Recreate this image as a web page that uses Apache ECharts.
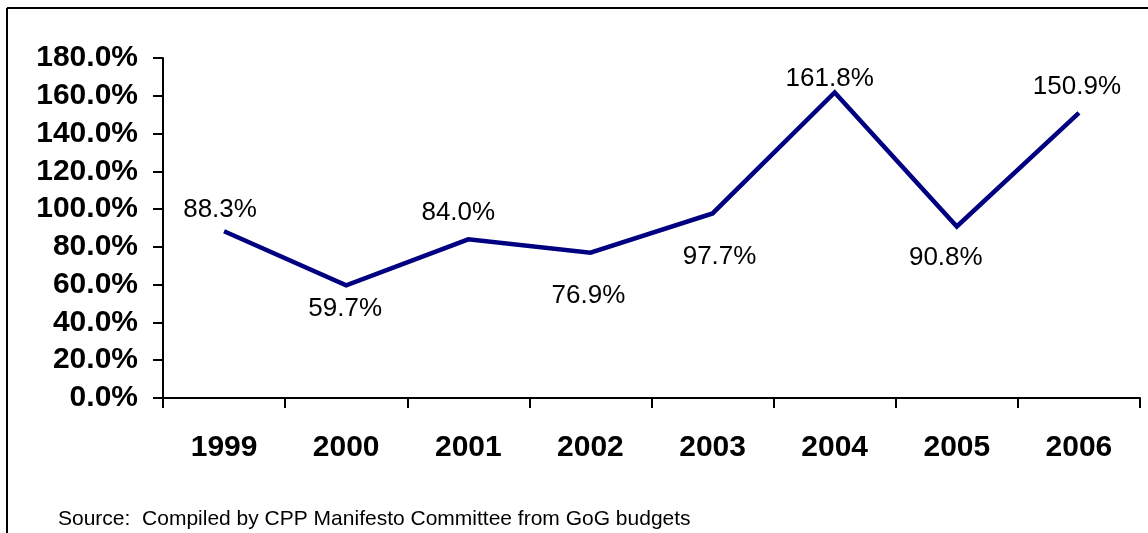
<!DOCTYPE html>
<html>
<head>
<meta charset="utf-8">
<title>Growth rate 1999-2006</title>
<script src="https://cdn.jsdelivr.net/npm/echarts@6/dist/echarts.min.js"></script>
<style>
  html, body { margin: 0; padding: 0; background: #fff; }
  #chart { width: 1148px; height: 533px; }
</style>
</head>
<body>
<div id="chart"></div>
<script>
// Years on the horizontal axis
const years = ['1999', '2000', '2001', '2002', '2003', '2004', '2005', '2006'];
// Yearly rate, in percent
const rates = [88.3, 59.7, 84.0, 76.9, 97.7, 161.8, 90.8, 150.9];
// Value-axis tick values, in percent
const yTicks = [0, 20, 40, 60, 80, 100, 120, 140, 160, 180];
// Where each value label sits relative to its point [dx, dy]
const labelShift = [[-4, -21], [-1, 24], [-10, -27], [-2, 43], [7, 43], [-5, -14], [-11, 31], [-2, -26]];

const sourceNote = 'Source:  Compiled by CPP Manifesto Committee from GoG budgets';

const chart = echarts.init(document.getElementById('chart'), null, { renderer: 'canvas' });

const font = 'Liberation Sans, Arial, Helvetica, sans-serif';

chart.setOption({
  backgroundColor: '#ffffff',
  animation: false,
  grid: { left: 163, right: 8, top: 58, bottom: 135, containLabel: false },
  graphic: [
    { type: 'line', shape: { x1: 7, y1: 8, x2: 1148, y2: 8 }, style: { stroke: '#000', lineWidth: 2 } },
    { type: 'line', shape: { x1: 7, y1: 8, x2: 7, y2: 533 }, style: { stroke: '#000', lineWidth: 2 } },
    {
      type: 'text', left: 58, top: 509,
      style: { text: sourceNote, font: '21px ' + font, fill: '#000' }
    }
  ],
  xAxis: {
    type: 'category',
    data: years,
    boundaryGap: true,
    axisLine: { lineStyle: { color: '#000', width: 2 } },
    axisTick: { show: true, length: 10, lineStyle: { color: '#000', width: 2 } },
    axisLabel: { color: '#000', fontFamily: font, fontWeight: 'bold', fontSize: 30, margin: 35 },
    splitLine: { show: false }
  },
  yAxis: {
    type: 'value',
    min: yTicks[0],
    max: yTicks[yTicks.length - 1],
    interval: yTicks[1] - yTicks[0],
    axisLine: { show: true, lineStyle: { color: '#000', width: 2 } },
    axisTick: { show: true, length: 10, lineStyle: { color: '#000', width: 2 } },
    axisLabel: {
      color: '#000', fontFamily: font, fontWeight: 'bold', fontSize: 30, margin: 25,
      formatter: v => v.toFixed(1) + '%'
    },
    splitLine: { show: false }
  },
  series: [{
    type: 'line',
    data: rates.map((v, i) => ({
      value: v,
      label: { offset: labelShift[i] }
    })),
    symbol: 'circle',
    symbolSize: 1,
    showSymbol: true,
    itemStyle: { color: 'rgba(0,0,128,0)' },
    lineStyle: { color: '#000080', width: 4.5, join: 'miter' },
    label: {
      show: true,
      position: 'inside',
      color: '#000',
      fontFamily: font,
      fontSize: 26,
      formatter: p => p.value.toFixed(1) + '%'
    },
    emphasis: { disabled: true }
  }]
});
</script>
</body>
</html>
